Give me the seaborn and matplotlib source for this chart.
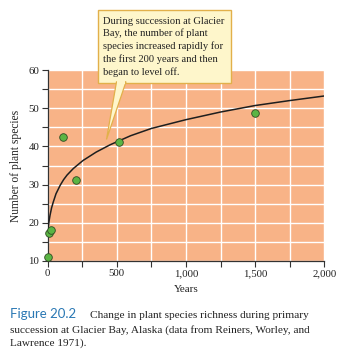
import numpy as np
import pandas as pd
import matplotlib
matplotlib.use("Agg")
import matplotlib.pyplot as plt
import matplotlib.ticker as mticker
from matplotlib.patches import Rectangle, Polygon
import seaborn as sns

# Observed data
obs_years = [5, 12, 25, 108, 205, 512, 1500]
obs_species = [11.1, 17.3, 18.2, 42.5, 31.3, 41.2, 48.8]

# Fitted trend curve
curve_years = [0, 2, 5, 10, 17, 28, 40, 60, 90, 115, 140, 185, 255, 350, 450, 500,
               600, 750, 1000, 1250, 1500, 1750, 2000]
curve_species = [17.6, 18.4, 19.2, 20.5, 22.0, 23.9, 25.4, 27.6, 29.8, 31.3, 32.5,
                 34.2, 36.3, 38.5, 40.4, 41.2, 42.8, 44.7, 47.0, 49.0, 50.7, 52.0, 53.2]

x_ticks = [0, 500, 1000, 1500, 2000]
y_ticks = [10, 20, 30, 40, 50, 60]

callout = ("During succession at Glacier\nBay, the number of plant\n"
           "species increased rapidly for\nthe first 200 years and then\n"
           "began to level off.")
fig_label = "Figure 20.2"
caption = ["Change in plant species richness during primary",
           "succession at Glacier Bay, Alaska (data from Reiners, Worley, and",
           "Lawrence 1971)."]

sns.set_style("ticks")
plt.rcParams['font.family'] = ['Liberation Serif', 'DejaVu Serif']

W, H = 349, 363
fig = plt.figure(figsize=(W / 100, H / 100), dpi=100)
ax_l, ax_r, ax_t, ax_b = 47.7, 324.3, 70.0, 261.0
ax = fig.add_axes([ax_l / W, 1 - ax_b / H, (ax_r - ax_l) / W, (ax_b - ax_t) / H])
ax.set_facecolor("#F8B387")

df_obs = pd.DataFrame({"Years": obs_years, "Species": obs_species})
df_curve = pd.DataFrame({"Years": curve_years, "Species": curve_species})

sns.lineplot(data=df_curve, x="Years", y="Species", ax=ax, color="#1e1e1e",
             linewidth=1.1, zorder=3)
sns.scatterplot(data=df_obs, x="Years", y="Species", ax=ax, color="#5BB544",
                edgecolor="#2f4a22", linewidth=0.6, s=30, zorder=4, clip_on=False)

ax.set_xlim(0, 2000)
ax.set_ylim(10, 60)
ax.xaxis.set_major_locator(mticker.FixedLocator(x_ticks))
ax.xaxis.set_minor_locator(mticker.MultipleLocator(250))
ax.yaxis.set_major_locator(mticker.FixedLocator(y_ticks))
ax.yaxis.set_minor_locator(mticker.MultipleLocator(5))
ax.xaxis.set_major_formatter(mticker.FuncFormatter(lambda v, p: f"{int(v):,}"))
ax.grid(which="both", color="white", linewidth=1.0)
ax.set_axisbelow(True)
for s in ["top", "right"]:
    ax.spines[s].set_visible(False)
for s in ["left", "bottom"]:
    ax.spines[s].set_color("#333333")
    ax.spines[s].set_linewidth(0.9)
ax.tick_params(which="both", direction="out", length=4, width=0.8, color="#333333",
               labelsize=7.8, pad=2, labelcolor="#222222")
ax.set_xlabel("Years", fontsize=8, labelpad=5, color="#222222")
ax.set_ylabel("Number of plant species", fontsize=8.3, labelpad=5, color="#222222")

# Callout box (figure pixel coordinates)
def fx(px):
    return px / W

def fy(py):
    return 1 - py / H

box_fc = "#FEF6CB"
box_ec = "#E2B04A"
fig.patches.append(Rectangle((fx(97.5), fy(82.5)), fx(231) - fx(97.5), fy(10) - fy(82.5),
                             transform=fig.transFigure, facecolor=box_fc,
                             edgecolor=box_ec, linewidth=1.0, zorder=10))
fig.patches.append(Polygon([(fx(116.5), fy(81.8)), (fx(126), fy(81.8)), (fx(106.5), fy(139.5))],
                           closed=True, transform=fig.transFigure, facecolor=box_fc,
                           edgecolor=box_ec, linewidth=0.9, zorder=11))
fig.patches.append(Rectangle((fx(117.3), fy(83.5)), fx(125.3) - fx(117.3), fy(81.3) - fy(83.5),
                             transform=fig.transFigure, facecolor=box_fc,
                             edgecolor="none", zorder=12))
fig.text(fx(102.5), fy(16.5), callout, ha="left", va="top", fontsize=7.6,
         linespacing=1.42, color="#222222", zorder=13)

# Caption
fig.text(fx(10), fy(318.5), fig_label, ha="left", va="baseline", fontsize=9.5,
         color="#2A78B4", family=["Lato", "DejaVu Sans"])
fig.text(fx(90.5), fy(318.5), caption[0], ha="left", va="baseline", fontsize=8.1,
         color="#222222")
fig.text(fx(10), fy(332.5), caption[1], ha="left", va="baseline", fontsize=8.1,
         color="#222222")
fig.text(fx(10), fy(346), caption[2], ha="left", va="baseline", fontsize=8.1,
         color="#222222")

fig.savefig("out.png", dpi=100)
